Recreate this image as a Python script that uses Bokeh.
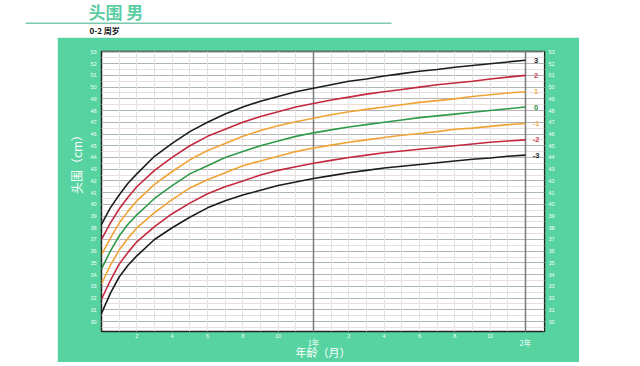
from bokeh.plotting import figure
from bokeh.models import (Range1d, LinearAxis, FixedTicker, Grid, Label, ColumnDataSource,
                          Spacer, Title)
from bokeh.layouts import column, row
from bokeh.embed import file_html
from bokeh.resources import INLINE
from bokeh.core.properties import value

# ---- data: head circumference (cm) for boys, 0-24 months ----
months = [0, 0.5, 1, 1.5, 2, 3, 4, 5, 6, 7, 8, 9, 10, 11, 12,
          13, 14, 15, 16, 17, 18, 19, 20, 21, 22, 23, 24]
sd_p3 = [38.3, 39.7, 40.8, 41.8, 42.6, 44.1, 45.2, 46.2, 47.0, 47.7, 48.3, 48.8, 49.2, 49.6, 49.9,
         50.2, 50.5, 50.7, 50.95, 51.15, 51.35, 51.5, 51.7, 51.85, 52.0, 52.15, 52.3]
sd_p2 = [37.0, 38.4, 39.6, 40.6, 41.5, 42.9, 44.0, 45.0, 45.8, 46.4, 47.0, 47.5, 47.9, 48.3, 48.6,
         48.9, 49.15, 49.4, 49.6, 49.8, 50.0, 50.2, 50.35, 50.5, 50.7, 50.85, 51.0]
sd_p1 = [35.7, 37.1, 38.4, 39.4, 40.3, 41.7, 42.8, 43.8, 44.6, 45.2, 45.8, 46.3, 46.7, 47.05, 47.35,
         47.65, 47.9, 48.1, 48.3, 48.5, 48.7, 48.85, 49.0, 49.2, 49.35, 49.5, 49.6]
sd_0 = [34.5, 36.0, 37.3, 38.3, 39.1, 40.5, 41.6, 42.6, 43.3, 44.0, 44.5, 45.0, 45.4, 45.8, 46.1,
        46.35, 46.6, 46.8, 47.0, 47.2, 47.4, 47.55, 47.7, 47.85, 48.0, 48.15, 48.3]
sd_m1 = [33.2, 34.8, 36.1, 37.1, 38.0, 39.3, 40.4, 41.4, 42.1, 42.7, 43.3, 43.7, 44.1, 44.5, 44.8,
         45.05, 45.3, 45.5, 45.7, 45.9, 46.05, 46.2, 46.4, 46.5, 46.65, 46.8, 46.9]
sd_m2 = [31.9, 33.5, 34.9, 35.9, 36.8, 38.1, 39.2, 40.1, 40.9, 41.5, 42.0, 42.5, 42.9, 43.2, 43.5,
         43.75, 44.0, 44.2, 44.4, 44.55, 44.7, 44.85, 45.0, 45.15, 45.3, 45.4, 45.5]
sd_m3 = [30.7, 32.4, 33.8, 34.8, 35.6, 37.0, 38.0, 38.9, 39.7, 40.3, 40.8, 41.2, 41.6, 41.9, 42.2,
         42.45, 42.7, 42.9, 43.1, 43.25, 43.4, 43.55, 43.7, 43.85, 43.95, 44.1, 44.2]
curve_names = ["3", "2", "1", "0", "-1", "-2", "-3"]
curve_values = [sd_p3, sd_p2, sd_p1, sd_0, sd_m1, sd_m2, sd_m3]
curve_colors = ["#1c1c1c", "#c3283e", "#f0a335", "#2e9a4a", "#f0a335", "#c3283e", "#1c1c1c"]
label_colors = ["#1c1c1c", "#c8404e", "#f0b050", "#2e8a44", "#f0b050", "#c8404e", "#1c1c1c"]

y_ticks = list(range(30, 54))
x_month_grid = list(range(25))
x_num_ticks = [2, 4, 6, 8, 10, 14, 16, 18, 20, 22]
x_num_labels = ["2", "4", "6", "8", "10", "2", "4", "6", "8", "10"]
x_year_ticks = [12, 24]
x_year_labels = ["1年", "2年"]

GREEN = "#56d3a1"
TITLE_GREEN = "#5ccda3"
CJK = "Noto Sans CJK SC"
LAT = "Liberation Sans"

# ---- header ----
HW, HH = 600, 37
header = figure(width=HW, height=HH, x_range=Range1d(0, HW), y_range=Range1d(HH, 0),
                output_backend="svg", toolbar_location=None, min_border=0,
                x_axis_location=None, y_axis_location=None,
                outline_line_color=None, background_fill_color="white",
                border_fill_color="white", frame_align=False)
header.grid.visible = False
header.add_layout(Label(x=88, y=11, text="头围 男", text_font=CJK, text_font_size="17px",
                        text_font_style="bold", text_color=TITLE_GREEN, text_baseline="middle"))
header.segment(x0=[25], y0=[22.7], x1=[391], y1=[22.7], line_color="#7cc9b0", line_width=1.5)
header.add_layout(Label(x=89, y=29.5, text="0-2 周岁", text_font=CJK, text_font_size="8px",
                        text_font_style="bold", text_color="#111111", text_baseline="middle"))

# ---- main chart ----
p = figure(frame_width=443, frame_height=280,
           x_range=Range1d(0, 25.08), y_range=Range1d(29.15, 53.04),
           output_backend="svg", toolbar_location=None,
           x_axis_location=None, y_axis_location=None,
           min_border_left=44, min_border_right=35, min_border_top=14, min_border_bottom=31,
           border_fill_color=GREEN, background_fill_color="white",
           outline_line_color="#222222", outline_line_width=1.5, frame_align=False)

# grids
p.add_layout(Grid(dimension=1,
                  ticker=FixedTicker(ticks=list(range(29, 54)),
                                     minor_ticks=[t + 0.5 for t in range(29, 53)]),
                  grid_line_color="#b4b4b4", grid_line_width=1,
                  minor_grid_line_color="#ecdede", minor_grid_line_width=1))
p.add_layout(Grid(dimension=0, ticker=FixedTicker(ticks=x_month_grid),
                  grid_line_color="#e2e2e2", grid_line_width=1))
p.add_layout(Grid(dimension=0, ticker=FixedTicker(ticks=x_year_ticks),
                  grid_line_color="#7a7a7a", grid_line_width=1.5))

# axes
common = dict(axis_line_color=None, major_tick_line_color=None, minor_tick_line_color=None,
              major_tick_out=0, major_tick_in=0, minor_tick_out=0, minor_tick_in=0)
ly = LinearAxis(ticker=FixedTicker(ticks=y_ticks),
                major_label_text_font=LAT, major_label_text_font_size="5.5px",
                major_label_text_color="#effff8", major_label_standoff=5, **common)
p.add_layout(ly, "left")
ry = LinearAxis(ticker=FixedTicker(ticks=y_ticks),
                major_label_text_font=LAT, major_label_text_font_size="5.5px",
                major_label_text_color="#effff8", major_label_standoff=4, **common)
p.add_layout(ry, "right")

bx1 = LinearAxis(ticker=FixedTicker(ticks=x_num_ticks),
                 major_label_overrides={t: s for t, s in zip(x_num_ticks, x_num_labels)},
                 major_label_text_font=LAT, major_label_text_font_size="5.5px",
                 major_label_text_color="#effff8", major_label_standoff=2, **common)
p.add_layout(bx1, "below")
bx2 = LinearAxis(ticker=FixedTicker(ticks=x_year_ticks),
                 major_label_overrides={t: s for t, s in zip(x_year_ticks, x_year_labels)},
                 major_label_text_font=CJK, major_label_text_font_size="7.5px",
                 major_label_text_color="white", major_label_standoff=-4,
                 axis_label="年龄（月）", axis_label_text_font=CJK,
                 axis_label_text_font_size="11px", axis_label_text_color="white",
                 axis_label_text_font_style="normal", axis_label_standoff=-7, **common)
p.add_layout(bx2, "below")

# y-axis title on the left; leading ideographic spaces lift it above centre as in the reference
p.add_layout(Title(text="\u3000\u3000\u3000\u3000\u3000头围（cm）", align="center", standoff=5,
                   text_font=CJK, text_font_size="12px", text_color="white",
                   text_font_style="normal"), "left")

# curves
for vals, col in zip(curve_values, curve_colors):
    p.line(months, vals, line_color=col, line_width=1.6)

lab_src = ColumnDataSource(dict(
    x=[months[-1] + 0.6] * len(curve_names),
    y=[v[-1] for v in curve_values],
    t=curve_names, c=label_colors))
p.text(x="x", y="y", text="t", text_color="c", source=lab_src,
       text_font=value(LAT), text_font_size="7.5px", text_font_style="bold",
       text_align="center", text_baseline="middle")

layout = column(header, row(Spacer(width=57, height=325), p, spacing=0), spacing=0)
open("out.html", "w").write(file_html(layout, INLINE))
